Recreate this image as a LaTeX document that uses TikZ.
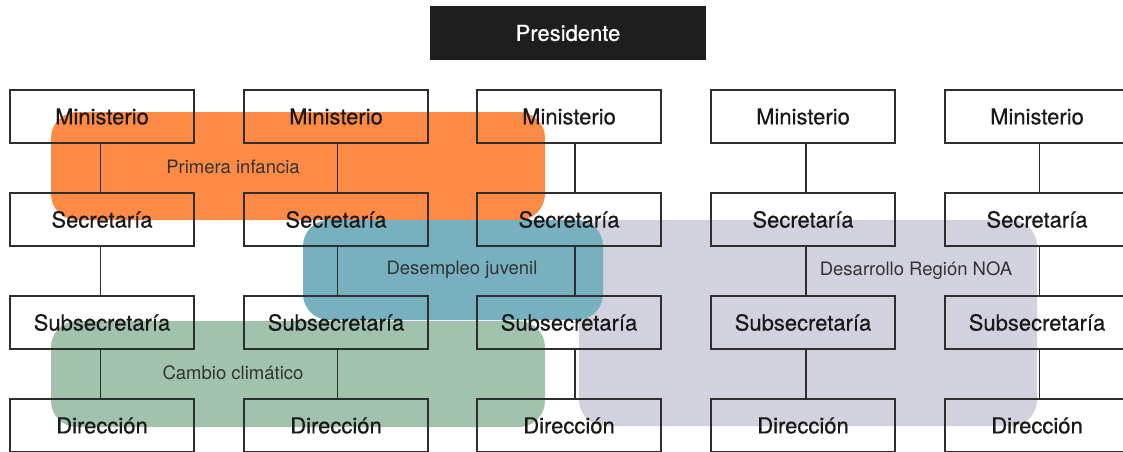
\documentclass[tikz,border=0pt]{standalone}
\usepackage{fontspec}
\setmainfont{TeX Gyre Heros}
\newfontfamily\medfont{TeX Gyre Heros}[FakeBold=0.5]
\definecolor{orangec}{HTML}{FD8B45}
\definecolor{tealc}{HTML}{77B1C0}
\definecolor{greenc}{HTML}{A1C3AD}
\definecolor{greyc}{HTML}{D2D2DF}
\definecolor{linec}{HTML}{2E2E2E}
\definecolor{presc}{HTML}{1E1E1E}
\begin{document}
\begin{tikzpicture}[x=1pt,y=-1pt,
  orgbox/.style={draw=linec, line width=1.2pt, minimum width=184pt, minimum height=53pt, inner sep=0pt, text=black!90, font=\medfont\fontsize{22}{25}\selectfont},
  conn/.style={draw=linec, line width=1.2pt},
  grouplabel/.style={inner sep=0pt, text=black!80, font=\fontsize{18.5}{22}\selectfont},
  groupfill/.style={rounded corners=26pt}]
\useasboundingbox (0,0) rectangle (1123,451);
\clip (0,0) rectangle (1123,451);
\fill[white] (0,0) rectangle (1123,451);
% overlays
\fill[orangec, groupfill] (51,112) rectangle (545,220);
\fill[greenc, groupfill] (51,321) rectangle (545,427);
\fill[greyc, groupfill] (579,220) rectangle (1037,426);
\fill[tealc, groupfill] (303,220) rectangle (603,320);
% president
\node[fill=presc, minimum width=276pt, minimum height=54pt, inner sep=0pt, text=white, font=\medfont\fontsize{22}{25}\selectfont] (pres) at (568,33) {Presidente};
% boxes
\foreach \c/\x in {1/102,2/336,3/569,4/803,5/1037}{
  \node[orgbox] (m\c) at (\x,116.5) {Ministerio};
  \node[orgbox] (s\c) at (\x,219.5) {Secretaría};
  \node[orgbox] (u\c) at (\x,322.5) {Subsecretaría};
  \node[orgbox] (d\c) at (\x,425.5) {Dirección};
}
% connectors
\foreach \c/\o in {1/-1.7,2/1.7,3/6,4/3,5/2.3}{
  \draw[conn] ([xshift=\o pt]m\c.south) -- ([xshift=\o pt]s\c.north);
  \draw[conn] ([xshift=\o pt]s\c.south) -- ([xshift=\o pt]u\c.north);
  \draw[conn] ([xshift=\o pt]u\c.south) -- ([xshift=\o pt]d\c.north);
}
% group labels
\node[grouplabel] (g1) at (233,167) {Primera infancia};
\node[grouplabel] (g2) at (462,270) {Desempleo juvenil};
\node[grouplabel] (g3) at (916,271) {Desarrollo Región NOA};
\node[grouplabel] (g4) at (233,373) {Cambio climático};
\end{tikzpicture}
\end{document}
